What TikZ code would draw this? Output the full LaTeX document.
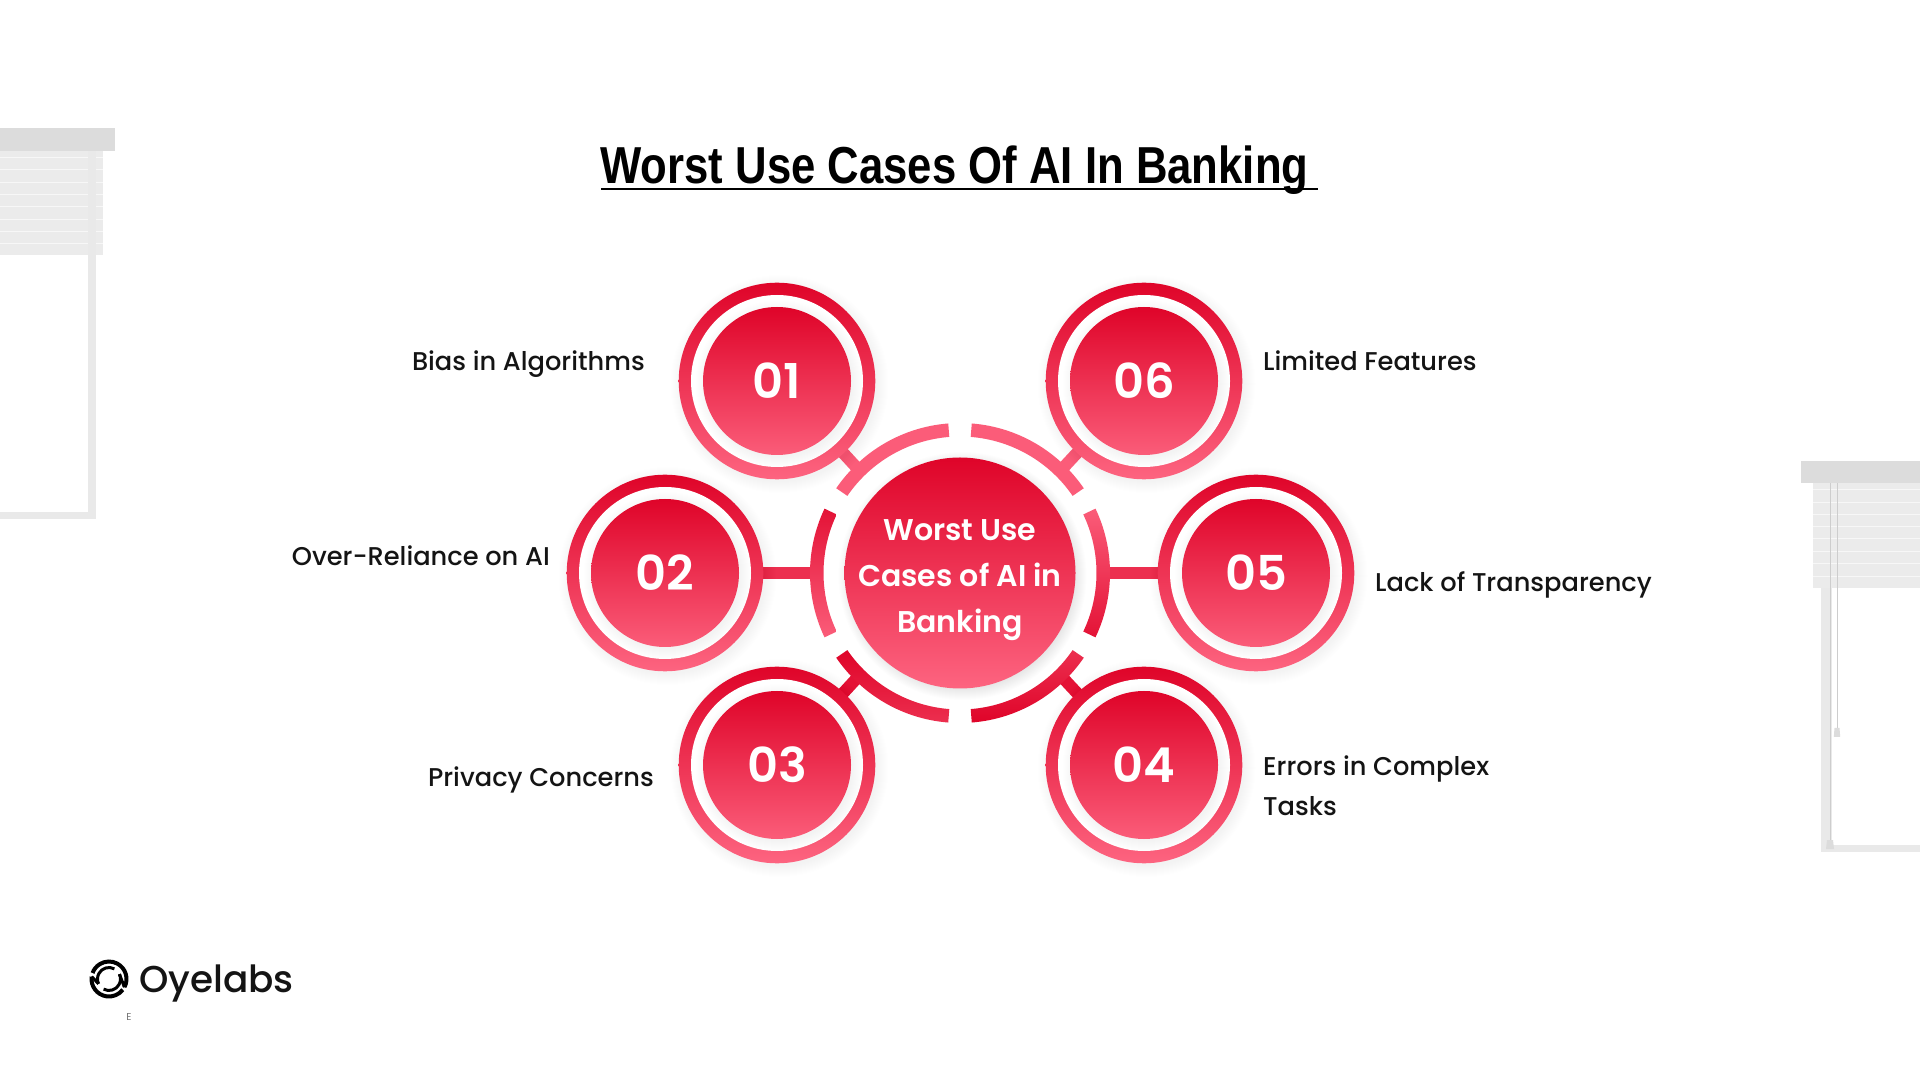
\documentclass[tikz,border=0pt]{standalone}
\usepackage{fontspec}
\usepackage{graphicx}
\usetikzlibrary{calc}
\setmainfont{Poppins}
\newfontfamily\medfont{Poppins Medium}
\newfontfamily\semifont{Poppins SemiBold}
\newfontfamily\titlefont{Liberation Sans}
\definecolor{dark}{HTML}{DF0429}
\definecolor{light}{HTML}{FD6480}
\definecolor{mid}{HTML}{EC2F4F}
\definecolor{frameg}{HTML}{E9E9E9}
\definecolor{slatg}{HTML}{EBEBEB}
\definecolor{barg}{HTML}{DCDCDC}
\tikzset{
  labeltxt/.style={inner sep=0,font=\medfont\fontsize{25.7}{40}\selectfont,text=black!92},
  numtxt/.style={inner sep=0,font=\semifont\fontsize{48}{48}\selectfont,text=white},
  linkline/.style={line width=12pt},
}
% x, y, radius, opacity, colour
\newcommand{\softshadow}[5]{%
  \foreach \k in {1,...,12}{\fill[#5,opacity=#4] (#1,#2)+(2.5,-3) circle[radius=#3+\k];}%
}
\newcommand{\badge}[4]{%
  \softshadow{#2}{#3}{97}{0.005}{dark!50!black}
  \shade[top color=dark,bottom color=light] (#2,#3) circle[radius=98.3];
  \fill[white] (#2,#3) circle[radius=86];
  \softshadow{#2}{#3}{72}{0.004}{dark}
  \shade[top color=dark,bottom color=light!92!dark] (#2,#3) circle[radius=74];
  \node[numtxt] (#1) at (#2,#3) {#4};
}
% start angle, end angle, top colour, bottom colour
\newcommand{\sector}[4]{%
  \shade[top color=#3,bottom color=#4,shift={(hub)}]
    (#1:150) arc[start angle=#1,end angle=#2,radius=150] -- (#2:136.5)
    arc[start angle=#2,end angle=#1,radius=136.5] -- cycle;
}
\begin{document}
\begin{tikzpicture}[x=1pt,y=1pt]
\useasboundingbox (0,0) rectangle (1920,1080);
\fill[white] (0,0) rectangle (1920,1080);

% left window
\fill[frameg] (88,952) rectangle (96,561);
\fill[frameg] (0,561) rectangle (96,568);
\fill[slatg] (0,929) rectangle (103,825);
\foreach \y in {923,911,898,886,874,861,849,837}{\fill[white!60!slatg] (0,\y) rectangle (88,\y-1.5);\fill[white!60!slatg] (96,\y) rectangle (103,\y-1.5);}
\fill[frameg] (88,929) rectangle (96,825);
\fill[barg] (0,952) rectangle (115,929);

% right window
\fill[frameg] (1821,597) rectangle (1832,228);
\fill[frameg] (1821,235) rectangle (1920,228);
\fill[slatg] (1813,597) rectangle (1920,492);
\foreach \y in {591,578,566,554,542,529,517,504}{\fill[white!60!slatg] (1813,\y) rectangle (1920,\y-1.5);}
\fill[frameg!88!black] (1829.5,597) rectangle (1830.8,235);
\fill[frameg!88!black] (1836.5,597) rectangle (1837.8,352);
\fill[barg] (1839.5,352) -- (1834.5,352) -- (1833.8,343) -- (1840.2,343) -- cycle;
\fill[barg] (1827,240) -- (1833,240) -- (1834,231) -- (1826,231) -- cycle;
\fill[barg] (1801,619) rectangle (1920,597);

% title
\node[inner sep=0,anchor=base] (title) at (954.5,896) {\scalebox{0.84}[1]{\titlefont\bfseries\fontsize{52}{52}\selectfont Worst Use Cases Of AI In Banking}};
\coordinate (ulA) at (601,891);
\coordinate (ulB) at (1318,891);
\draw[line width=2.6pt,black] (ulA) -- (ulB);

% hub position and links
\coordinate (hub) at (960,507);
\coordinate (h1) at ($(hub)+(134.5:143)$);
\coordinate (h6) at ($(hub)+(45.5:143)$);
\coordinate (h2) at ($(hub)+(180:143)$);
\coordinate (h5) at ($(hub)+(0:143)$);
\coordinate (h3) at ($(hub)+(225.5:143)$);
\coordinate (h4) at ($(hub)+(-45.5:143)$);
\coordinate (p1) at (777,699);
\coordinate (p6) at (1144,699);
\coordinate (p2) at (665,507);
\coordinate (p5) at (1256,507);
\coordinate (p3) at (777,315);
\coordinate (p4) at (1144,315);
\draw[linkline,color=light!92!dark] (h1) -- (p1);
\draw[linkline,color=light!92!dark] (h6) -- (p6);
\draw[linkline,color=mid] (h2) -- (p2);
\draw[linkline,color=mid] (h5) -- (p5);
\draw[linkline,color=dark!85!light] (h3) -- (p3);
\draw[linkline,color=dark!85!light] (h4) -- (p4);

% ring around the hub
\sector{34.4}{85.5}{light!92!dark}{light!92!dark}
\sector{94.5}{145.6}{light!92!dark}{light!92!dark}
\sector{154.6}{205.4}{dark!85!light}{light!92!dark}
\sector{-25.4}{25.4}{light!92!dark}{dark!85!light}
\sector{214.4}{265.5}{dark}{mid}
\sector{274.5}{325.6}{mid}{dark}

% badges
\badge{n1}{777}{699}{01}
\badge{n6}{1144}{699}{06}
\badge{n2}{665}{507}{02}
\badge{n5}{1256}{507}{05}
\badge{n3}{777}{315}{03}
\badge{n4}{1144}{315}{04}

% hub disc
\softshadow{960}{507}{112}{0.009}{black}
\shade[top color=dark,bottom color=light] (960,507) circle[radius=115.5];
\node[inner sep=0,align=center,text=white,font=\semifont\fontsize{30}{46}\selectfont] (hubtext) at (960,500) {Worst Use\\Cases of AI in\\Banking};

% labels
\node[labeltxt,anchor=base east] (l1) at (645,709) {Bias in Algorithms};
\node[labeltxt,anchor=base east] (l2) at (550,514) {Over-Reliance on AI};
\node[labeltxt,anchor=base east] (l3) at (654,293) {Privacy Concerns};
\node[labeltxt,anchor=base west] (l6) at (1263,709) {Limited Features};
\node[labeltxt,anchor=base west] (l5) at (1375,488) {Lack of Transparency};
\node[labeltxt,anchor=base west] (l4a) at (1263,304) {Errors in Complex};
\node[labeltxt,anchor=base west] (l4b) at (1263,265) {Tasks};

% logo
\begin{scope}[shift={(109,101)},line cap=butt]
\draw[line width=4pt] (-28:17.5) arc[start angle=-28,end angle=160,radius=17.5];
\draw[line width=4pt] (172:17.5) arc[start angle=172,end angle=322,radius=17.5];
\draw[line width=3pt] (62:11.5) arc[start angle=62,end angle=205,radius=11.5];
\draw[line width=3pt] (242:11.5) arc[start angle=242,end angle=385,radius=11.5];
\draw[line width=3pt] (172:17.5) -- (205:11.5);
\draw[line width=3pt] (-28:17.5) -- (25:11.5);
\end{scope}
\node[inner sep=0,anchor=base west,font=\medfont\fontsize{37.4}{37.4}\selectfont,text=black!92] (brand) at (139,88) {Oyelabs};
\node[inner sep=0,font=\fontsize{10}{10}\selectfont,text=black!55] (tinyE) at (129,63) {E};
\end{tikzpicture}
\end{document}
